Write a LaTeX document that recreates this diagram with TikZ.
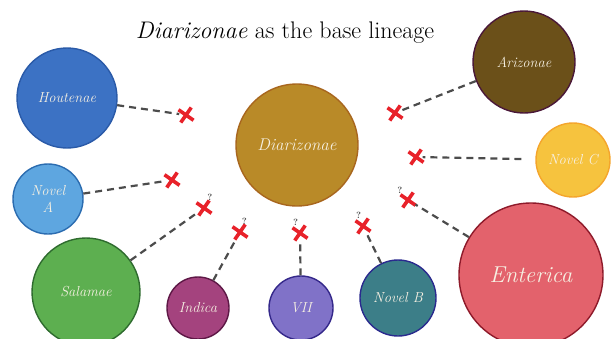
\documentclass[tikz,border=0pt]{standalone}
\usepackage{tikz}
\usetikzlibrary{shapes.misc}
\definecolor{houtF}{HTML}{3C72C4}\definecolor{houtE}{HTML}{2A5AA8}
\definecolor{diarF}{HTML}{B98A28}\definecolor{diarE}{HTML}{A8661E}
\definecolor{arizF}{HTML}{6B5019}\definecolor{arizE}{HTML}{4A1838}
\definecolor{novcF}{HTML}{F6C33E}\definecolor{novcE}{HTML}{F4A52C}
\definecolor{novaF}{HTML}{5EA6E0}\definecolor{novaE}{HTML}{2B6CB0}
\definecolor{salaF}{HTML}{5DAF50}\definecolor{salaE}{HTML}{2E6B2E}
\definecolor{indiF}{HTML}{A4437E}\definecolor{indiE}{HTML}{5E1846}
\definecolor{sevnF}{HTML}{8072C8}\definecolor{sevnE}{HTML}{34288A}
\definecolor{novbF}{HTML}{3C7E88}\definecolor{novbE}{HTML}{2A2A8E}
\definecolor{enteF}{HTML}{E3626C}\definecolor{enteE}{HTML}{8E1A2A}
\definecolor{labeltext}{HTML}{F6F0E2}
\definecolor{lostred}{HTML}{E8222A}
\tikzset{lineage/.style 2 args={circle, fill=#1, draw=#2, line width=1.4pt, inner sep=0pt, text=labeltext, font=\fontsize{14.5}{17}\selectfont\itshape, align=center},
%red mark where a lineage was lost
lost/.style={cross out, draw=lostred, line width=3.6pt, minimum size=13pt, inner sep=0pt, outer sep=0pt, rotate=10},
qmark/.style={font=\fontsize{9}{10}\selectfont\bfseries, text=black!70, inner sep=0.5pt},
link/.style={draw=black!70, line width=2.2pt, dash pattern=on 7pt off 5pt}}

\begin{document}
\begin{tikzpicture}[x=1pt,y=-1pt]
\useasboundingbox (0,0) rectangle (611,338);
% title
\node[font=\fontsize{24}{28}\selectfont] (title) at (285,33) {\textit{Diarizonae} as the base lineage};

% lineages
\node[lineage={diarF}{diarE}, minimum size=122, font=\fontsize{17}{20}\selectfont\itshape] (diar) at (297,145) {Diarizonae};
\node[lineage={houtF}{houtE}, minimum size=100] (hout) at (67,98) {Houtenae};
\node[lineage={arizF}{arizE}, minimum size=102] (ariz) at (524,62) {Arizonae};
\node[lineage={novcF}{novcE}, minimum size=74] (novc) at (573,160) {Novel C};
\node[lineage={novaF}{novaE}, minimum size=70] (nova) at (48,199) {Novel\\A};
\node[lineage={salaF}{salaE}, minimum size=108] (sala) at (86,292) {Salamae};
\node[lineage={indiF}{indiE}, minimum size=62] (indi) at (198,308) {Indica};
\node[lineage={sevnF}{sevnE}, minimum size=64] (sevn) at (301,308) {VII};
\node[lineage={novbF}{novbE}, minimum size=76] (novb) at (398,298) {Novel B};
\node[lineage={enteF}{enteE}, minimum size=144, font=\fontsize{23}{27}\selectfont\itshape] (ente) at (531,275) {Enterica};

%crosses
\node[lost] (xhout) at (186,115) {};
\node[lost] (xnova) at (172,180) {};
\node[lost, label={[qmark]60:?}] (xsala) at (204,208) {};
\node[lost, label={[qmark]70:?}] (xindi) at (240,232) {};
\node[lost, label={[qmark]90:?}] (xsevn) at (300,233) {};
\node[lost, label={[qmark]90:?}] (xnovb) at (363,226) {};
\node[lost, label={[qmark]120:?}] (xente) at (408,200) {};
\node[lost] (xnovc) at (416,157) {};
\node[lost] (xariz) at (395,113) {};

\foreach \a in {hout,nova,sala,indi,sevn,novb,ente,ariz}
     \draw[link] (\a) -- (x\a);
\draw[link, shorten <=14pt] (novc) -- (xnovc);

\end{tikzpicture}
\end{document}
